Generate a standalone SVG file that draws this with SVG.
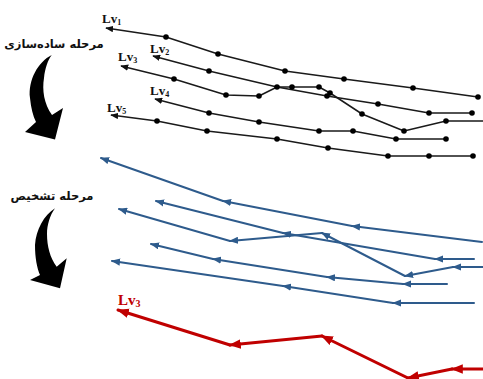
<svg xmlns="http://www.w3.org/2000/svg" width="483" height="379" viewBox="0 0 483 379">
<defs>
<style>
.bl{fill:none;stroke:#1a1a1a;stroke-width:1.5;stroke-linejoin:round}
.dot{fill:#000}
.bu{stroke:#2e5b8c;stroke-width:2;stroke-linecap:round}
.rd{stroke:#c00000;stroke-width:3;stroke-linecap:round}
.lv{font-family:"Liberation Serif",serif;font-weight:bold;font-size:13px;fill:#111}
.sub{font-size:8px}
.fa{font-family:"DejaVu Sans",sans-serif;font-weight:bold;font-size:11.5px;fill:#111}
</style>
<marker id="mk" viewBox="0 0 10 8" refX="9" refY="4" markerWidth="8" markerHeight="6.5" markerUnits="userSpaceOnUse" orient="auto-start-reverse"><path d="M0,0L10,4L0,8z" fill="#111"/></marker>
<marker id="mb" viewBox="0 0 10 8" refX="9" refY="4" markerWidth="9" markerHeight="7.5" markerUnits="userSpaceOnUse" orient="auto"><path d="M0,0L10,4L0,8z" fill="#2e5b8c"/></marker>
<marker id="mr" viewBox="0 0 10 8" refX="9" refY="4" markerWidth="12" markerHeight="10" markerUnits="userSpaceOnUse" orient="auto"><path d="M0,0L10,4L0,8z" fill="#c00000"/></marker>
</defs>
<rect width="483" height="379" fill="#fff"/>

<g id="stage-simplify">
<text class="fa" x="54" y="48" text-anchor="middle">مرحله ساده‌سازی</text>
<path d="M51.7,55 C38,62 28,80 30,98 C31,108 33,116 36,122 L25,132 L55,139.5 L63,108 L52,115 C44,104 42,90 44,78 C45,68 48,60 51.7,55 Z" fill="#000"/>
</g>
<g id="stage-diagnose">
<text class="fa" x="52" y="200" text-anchor="middle">مرحله تشخیص</text>
<path d="M55,208.3 C44,215 36,230 35,245 C35,258 37,268 40,275 L30,280 L60,288.3 L66.7,258.3 L56.7,266.7 C50,258 47,246 47,234 C47,225 50,215 55,208.3 Z" fill="#000"/>
</g>

<g id="labels">
<text class="lv" x="102" y="23">Lv<tspan class="sub" dy="2">1</tspan></text>
<text class="lv" x="150" y="53">Lv<tspan class="sub" dy="2">2</tspan></text>
<text class="lv" x="118" y="61">Lv<tspan class="sub" dy="2">3</tspan></text>
<text class="lv" x="150" y="95">Lv<tspan class="sub" dy="2">4</tspan></text>
<text class="lv" x="107" y="112">Lv<tspan class="sub" dy="2">5</tspan></text>
<text class="lv" x="118" y="305" style="fill:#c00000;font-size:15px">Lv<tspan class="sub" dy="2" style="font-size:10px">3</tspan></text>
</g>

<g id="connectors">
<g id="black-lines">
<polyline class="bl" marker-start="url(#mk)" points="106,28 166,37 218,54 285,71 344,79 413,88 478,97"/>
<polyline class="bl" marker-start="url(#mk)" points="153,56 209,71 277,87 327,96 378,104 429,113 472,113"/>
<polyline class="bl" marker-start="url(#mk)" points="121,66 174,79 226,95 259,96 277,87 292,87 319,87 330,93 362,114 404,131 446,121 483,121"/>
<polyline class="bl" marker-start="url(#mk)" points="155,99 209,113 259,122 319,131 353,131 396,139 446,139"/>
<polyline class="bl" marker-start="url(#mk)" points="111,115 157,121 207,131 277,139 328,148 388,156 429,156 473,156"/>
</g>
<g id="dots" class="dot">
<circle cx="166" cy="37" r="2.8"/><circle cx="218" cy="54" r="2.8"/><circle cx="285" cy="71" r="2.8"/><circle cx="344" cy="79" r="2.8"/><circle cx="413" cy="88" r="2.8"/><circle cx="478" cy="97" r="2.8"/>
<circle cx="209" cy="71" r="2.8"/><circle cx="277" cy="87" r="2.8"/><circle cx="327" cy="96" r="2.8"/><circle cx="378" cy="104" r="2.8"/><circle cx="429" cy="113" r="2.8"/><circle cx="472" cy="113" r="2.8"/>
<circle cx="174" cy="79" r="2.8"/><circle cx="226" cy="95" r="2.8"/><circle cx="259" cy="96" r="2.8"/><circle cx="292" cy="87" r="2.8"/><circle cx="319" cy="87" r="2.8"/><circle cx="330" cy="93" r="2.8"/><circle cx="362" cy="114" r="2.8"/><circle cx="404" cy="131" r="2.8"/><circle cx="446" cy="121" r="2.8"/>
<circle cx="209" cy="113" r="2.8"/><circle cx="259" cy="122" r="2.8"/><circle cx="319" cy="131" r="2.8"/><circle cx="353" cy="131" r="2.8"/><circle cx="396" cy="139" r="2.8"/><circle cx="446" cy="139" r="2.8"/>
<circle cx="157" cy="121" r="2.8"/><circle cx="207" cy="131" r="2.8"/><circle cx="277" cy="139" r="2.8"/><circle cx="328" cy="148" r="2.8"/><circle cx="388" cy="156" r="2.8"/><circle cx="429" cy="156" r="2.8"/><circle cx="473" cy="156" r="2.8"/>
</g>
<g id="blue-lines">
<line class="bu" marker-end="url(#mb)" x1="482" y1="242" x2="352" y2="226"/>
<line class="bu" marker-end="url(#mb)" x1="352" y1="226" x2="223" y2="201"/>
<line class="bu" marker-end="url(#mb)" x1="223" y1="201" x2="101" y2="158"/>
<line class="bu" marker-end="url(#mb)" x1="474" y1="259" x2="435" y2="259"/>
<line class="bu" marker-end="url(#mb)" x1="435" y1="259" x2="283" y2="233"/>
<line class="bu" marker-end="url(#mb)" x1="283" y1="233" x2="156" y2="201"/>
<line class="bu" marker-end="url(#mb)" x1="483" y1="267" x2="453" y2="267"/>
<line class="bu" marker-end="url(#mb)" x1="453" y1="267" x2="405" y2="276"/>
<line class="bu" marker-end="url(#mb)" x1="405" y1="276" x2="322" y2="233"/>
<line class="bu" marker-end="url(#mb)" x1="322" y1="233" x2="230" y2="241"/>
<line class="bu" marker-end="url(#mb)" x1="230" y1="241" x2="119" y2="209"/>
<line class="bu" marker-end="url(#mb)" x1="447" y1="284" x2="403" y2="284"/>
<line class="bu" marker-end="url(#mb)" x1="403" y1="284" x2="327" y2="277"/>
<line class="bu" marker-end="url(#mb)" x1="327" y1="277" x2="213" y2="259"/>
<line class="bu" marker-end="url(#mb)" x1="213" y1="259" x2="151" y2="244"/>
<line class="bu" marker-end="url(#mb)" x1="474" y1="303" x2="393" y2="303"/>
<line class="bu" marker-end="url(#mb)" x1="393" y1="303" x2="283" y2="286"/>
<line class="bu" marker-end="url(#mb)" x1="283" y1="286" x2="112" y2="261"/>
</g>
<g id="red-line">
<line class="rd" marker-end="url(#mr)" x1="483" y1="369" x2="452" y2="369"/>
<line class="rd" marker-end="url(#mr)" x1="452" y1="369" x2="408" y2="378"/>
<line class="rd" marker-end="url(#mr)" x1="408" y1="378" x2="322" y2="336"/>
<line class="rd" marker-end="url(#mr)" x1="322" y1="336" x2="230" y2="345"/>
<line class="rd" marker-end="url(#mr)" x1="230" y1="345" x2="118" y2="310"/>
</g>
</g>
</svg>
